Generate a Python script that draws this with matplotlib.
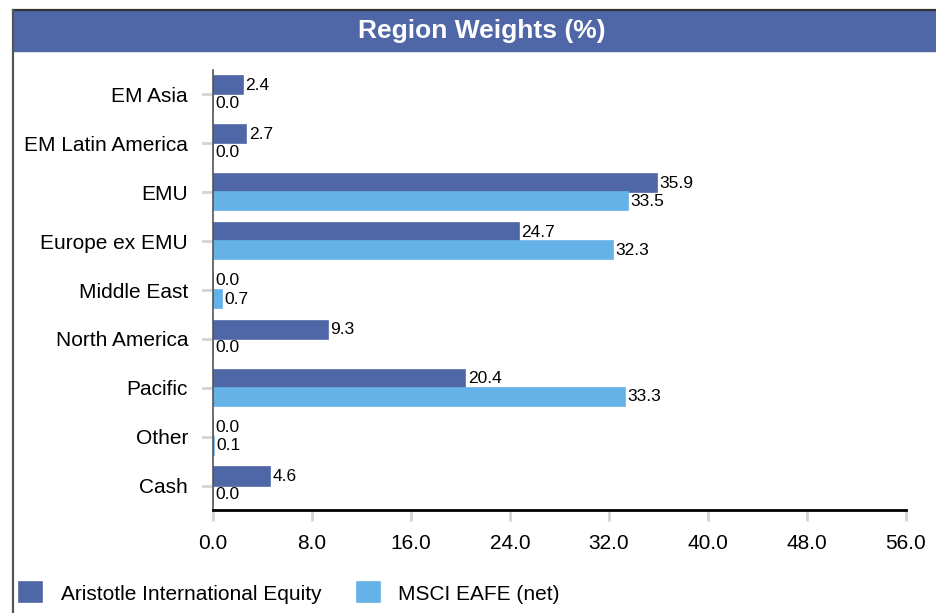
import matplotlib
matplotlib.use("Agg")
import matplotlib.pyplot as plt
from matplotlib.patches import Rectangle
from matplotlib.lines import Line2D
import numpy as np

plt.rcParams['font.family'] = ['Liberation Sans', 'DejaVu Sans']

# Dados
regioes = ["EM Asia", "EM Latin America", "EMU", "Europe ex EMU", "Middle East",
           "North America", "Pacific", "Other", "Cash"]
fundo = [2.4, 2.7, 35.9, 24.7, 0.0, 9.3, 20.4, 0.0, 4.6]
indice = [0.0, 0.0, 33.5, 32.3, 0.7, 0.0, 33.3, 0.1, 0.0]
nomes = ["Aristotle International Equity", "MSCI EAFE (net)"]
xticks = [0, 8, 16, 24, 32, 40, 48, 56]

cor_escura = "#4F67A6"
cor_clara = "#65B2E8"

fig = plt.figure(figsize=(9.36, 6.13), dpi=100)

# moldura e barra de titulo
fig.patches.append(Rectangle((13 / 936, 1 - 51 / 613), 1 - 13 / 936, 41 / 613,
                             transform=fig.transFigure, color=cor_escura, zorder=0))
fig.lines.append(Line2D([13 / 936, 1], [1 - 10 / 613] * 2, transform=fig.transFigure,
                        color="#333333", lw=1.6))
fig.lines.append(Line2D([13 / 936] * 2, [0, 1 - 10 / 613], transform=fig.transFigure,
                        color="#555555", lw=1.6))
fig.text(482 / 936, 1 - 31 / 613, "Region Weights (%)", color="white", fontsize=19,
         fontweight="bold", ha="center", va="center")

ax = fig.add_axes([213 / 936, 103 / 613, 693 / 936, 440 / 613])
y = np.arange(len(regioes))
h = 0.37
b1 = ax.barh(y - h / 2, fundo, height=h, color=cor_escura, edgecolor=cor_escura,
             linewidth=1.2, label=nomes[0])
b2 = ax.barh(y + h / 2, indice, height=h, color=cor_clara, edgecolor=cor_clara,
             linewidth=1.2, label=nomes[1])

for yy, v in zip(y, fundo):
    ax.text(v + 0.2, yy - h / 2, f"{v:.1f}", va="center", ha="left", fontsize=12.5)
for yy, v in zip(y, indice):
    ax.text(v + 0.2, yy + h / 2, f"{v:.1f}", va="center", ha="left", fontsize=12.5)

ax.set_xlim(0, 56)
ax.set_ylim(len(regioes) - 0.5, -0.5)
ax.set_xticks(xticks)
ax.set_xticklabels([f"{t:.1f}" for t in xticks], fontsize=15)
ax.set_yticks(y)
ax.set_yticklabels(regioes, fontsize=15)
ax.tick_params(axis="y", length=0, pad=18)
ax.tick_params(axis="x", length=8, width=2, color="#d4d4d4", pad=9)

# pequenos tracos cinza à esquerda do eixo
for yy in y:
    ax.add_line(Line2D([-0.015, -0.005], [yy, yy], color="#d4d4d4", lw=2,
                       transform=ax.get_yaxis_transform(), clip_on=False))

for s in ["top", "right"]:
    ax.spines[s].set_visible(False)
ax.spines["left"].set_color("#555555")
ax.spines["left"].set_linewidth(1.2)
ax.spines["bottom"].set_color("black")
ax.spines["bottom"].set_linewidth(2)

fig.legend(handles=[b1, b2], labels=nomes, loc="center left",
           bbox_to_anchor=(19 / 936, 20 / 613), borderaxespad=0, borderpad=0,
           ncol=2, frameon=False, fontsize=15, handlelength=1.1, handleheight=1.1,
           handletextpad=0.9, columnspacing=1.7)

fig.savefig("out.png", dpi=100)
